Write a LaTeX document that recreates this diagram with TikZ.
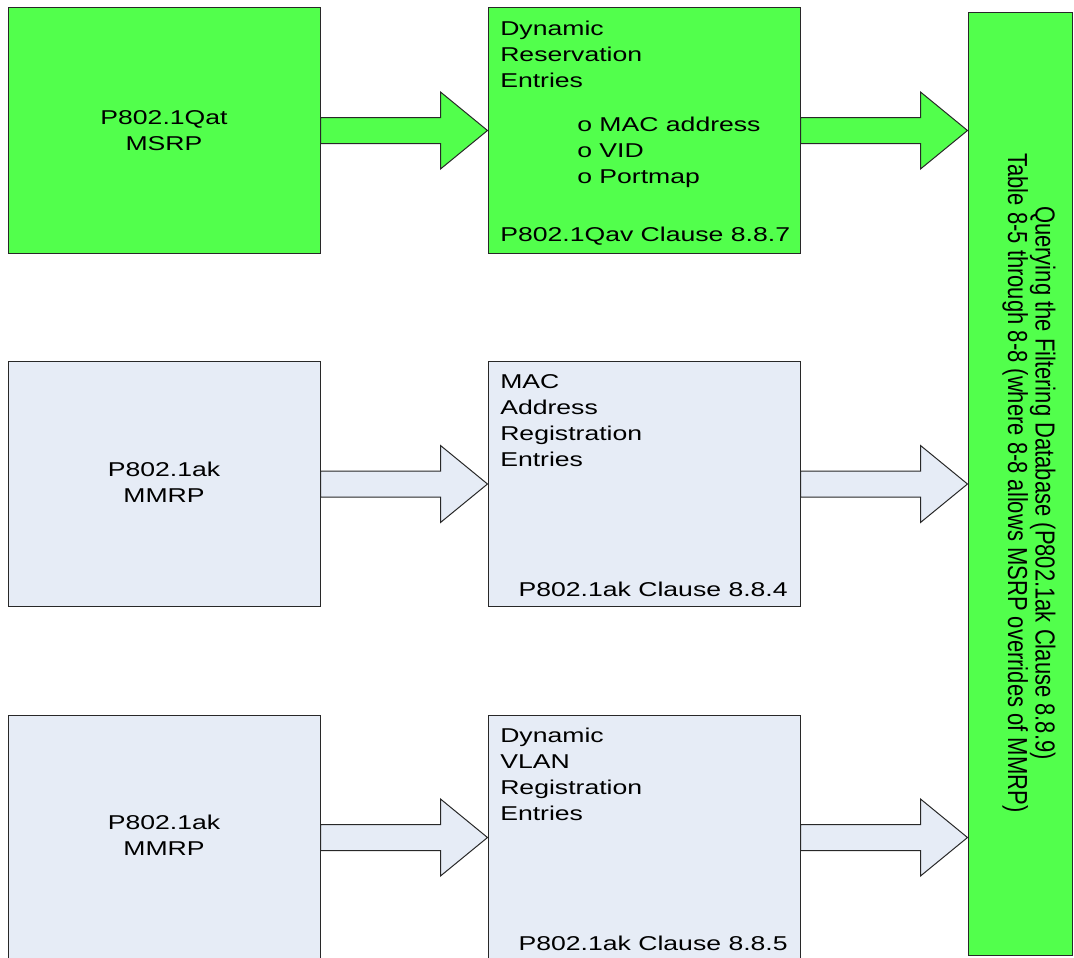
\documentclass[tikz,border=0pt]{standalone}
\usepackage{fontspec}
\setmainfont{Liberation Sans}
\usepackage{tikz}
\usetikzlibrary{calc,positioning}
\definecolor{srpgreen}{RGB}{82,255,76}
\definecolor{srpblue}{RGB}{230,236,246}
\definecolor{srpline}{RGB}{40,40,40}
\tikzstyle{greenbox} = [rectangle, draw=srpline, fill=srpgreen, line width=1pt, minimum width=312pt, minimum height=245pt]
\tikzstyle{bluebox} = [rectangle, draw=srpline, fill=srpblue, line width=1pt, minimum width=312pt, minimum height=245pt]
\tikzstyle{txt} = [inner sep=0pt, xscale=1.33, font=\fontsize{20}{26}\selectfont]
\newcommand{\fatarrow}[3]{%
  \coordinate (tip) at (#1.east -| #2.west);
  \filldraw[fill=#3, draw=srpline, line width=1pt, line join=miter]
    ($(#1.east)+(0,13)$) -- ($(tip)+(-47,13)$) -- ($(tip)+(-47,38.5)$) -- (tip)
    -- ($(tip)+(-47,-38.5)$) -- ($(tip)+(-47,-13)$) -- ($(#1.east)+(0,-13)$) -- cycle;
}

\begin{document}
\begin{tikzpicture}[x=1pt, y=-1pt]
    \useasboundingbox (0,0) rectangle (1074,958);

    % left column
    \node[greenbox] (qat) at (164,130.5) {};
    \node[bluebox] (mmrpa) at (164,484) {};
    \node[bluebox] (mmrpb) at (164,837.5) {};
    \node[txt, align=center] (qatlbl) at (qat) {P802.1Qat\\MSRP};
    \node[txt, align=center] (mmrpalbl) at ($(mmrpa)+(0,-2)$) {P802.1ak\\MMRP};
    \node[txt, align=center] (mmrpblbl) at ($(mmrpb)+(0,-2)$) {P802.1ak\\MMRP};

    % middle column
    \node[greenbox] (dre) at (644,130.5) {};
    \node[bluebox] (mare) at (644,484) {};
    \node[bluebox] (dvre) at (644,837.5) {};

    % filtering database
    \node[rectangle, draw=srpline, fill=srpgreen, line width=1pt, minimum width=104pt, minimum height=942pt] (fdb) at (1020,484) {};

    \fatarrow{qat}{dre}{srpgreen}
    \fatarrow{mmrpa}{mare}{srpblue}
    \fatarrow{mmrpb}{dvre}{srpblue}
    \fatarrow{dre}{fdb}{srpgreen}
    \fatarrow{mare}{fdb}{srpblue}
    \fatarrow{dvre}{fdb}{srpblue}

    \node[txt, align=left, anchor=north west] (drettl) at (500,21) {Dynamic\\Reservation\\Entries};
    \node[txt, align=left, anchor=north west] (drelist) at (577,117) {o MAC address\\o VID\\o Portmap};
    \node[txt, anchor=north west] (dreref) at (500,227) {P802.1Qav Clause 8.8.7};

    \node[txt, align=left, anchor=north west] (marettl) at (500,374) {MAC\\Address\\Registration\\Entries};
    \node[txt, anchor=north east] (mareref) at (788,582) {P802.1ak Clause 8.8.4};

    \node[txt, align=left, anchor=north west] (dvrettl) at (500,728) {Dynamic\\VLAN\\Registration\\Entries};
    \node[txt, anchor=north east] (dvreref) at (788,936) {P802.1ak Clause 8.8.5};

    \node[inner sep=0pt, xscale=1.25, rotate=-90, align=center, font=\fontsize{22}{22}\selectfont] (fdblbl) at (1029,483)
        {Querying the Filtering Database (P802.1ak Clause 8.8.9)\\Table 8-5 through 8-8 (where 8-8 allows MSRP overrides of MMRP)};
\end{tikzpicture}
\end{document}
